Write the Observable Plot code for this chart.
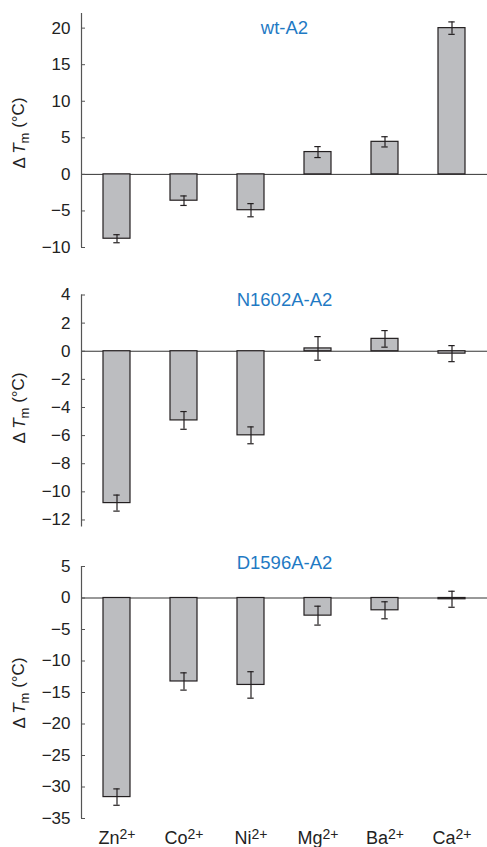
<!DOCTYPE html>
<html>
<head>
<meta charset="utf-8">
<script src="https://cdn.jsdelivr.net/npm/d3@7"></script>
<script src="https://cdn.jsdelivr.net/npm/@observablehq/plot@0.6"></script>
<style>
  html, body { margin: 0; padding: 0; background: #fff; }
  #chart > svg { display: block; }
</style>
</head>
<body>
<div id="chart"></div>
<script>
const ions = ["Zn", "Co", "Ni", "Mg", "Ba", "Ca"];
const charge = "2+";

const titles = ["wt-A2", "N1602A-A2", "D1596A-A2"];

const wtValues = [-8.8, -3.6, -4.9, 3.05, 4.45, 20.0];
const wtErrors = [0.55, 0.65, 0.9, 0.75, 0.7, 0.85];

const n1602Values = [-10.8, -4.92, -5.98, 0.2, 0.88, -0.17];
const n1602Errors = [0.57, 0.63, 0.6, 0.84, 0.59, 0.57];

const d1596Values = [-31.6, -13.25, -13.8, -2.8, -1.95, -0.2];
const d1596Errors = [1.3, 1.37, 2.1, 1.5, 1.35, 1.27];

const wtTicks = [-10, -5, 0, 5, 10, 15, 20];
const n1602Ticks = [-12, -10, -8, -6, -4, -2, 0, 2, 4];
const d1596Ticks = [-35, -30, -25, -20, -15, -10, -5, 0, 5];

const panels = [
  {title: titles[0], values: wtValues, errors: wtErrors, ticks: wtTicks, domain: [-10, 22],
   height: 280, marginTop: 13, marginBottom: 33, titleDy: 14.5, labelY: 133, xAxis: false},
  {title: titles[1], values: n1602Values, errors: n1602Errors, ticks: n1602Ticks, domain: [-12.5, 4],
   height: 270, marginTop: 14.5, marginBottom: 23.5, titleDy: 5, labelY: 128, xAxis: false},
  {title: titles[2], values: d1596Values, errors: d1596Errors, ticks: d1596Ticks, domain: [-35, 5],
   height: 297, marginTop: 16, marginBottom: 29, titleDy: -3, labelY: 143, xAxis: true}
];

const FONT = "'Liberation Sans', Arial, Helvetica, sans-serif";
const WIDTH = 487, ML = 81, MR = 0;
const frameW = WIDTH - ML - MR;
const container = document.getElementById("chart");

for (const p of panels) {
  const data = ions.map((ion, i) => ({ion, value: p.values[i], err: p.errors[i]}));
  const plot = Plot.plot({
    width: WIDTH,
    height: p.height,
    marginLeft: ML,
    marginRight: MR,
    marginTop: p.marginTop,
    marginBottom: p.marginBottom,
    style: {fontFamily: FONT, fontSize: "17px", color: "#222", background: "#fff"},
    x: {domain: ions, paddingInner: 0.59, paddingOuter: 0.295, axis: null},
    y: {domain: p.domain, axis: null},
    marks: [
      // zero baseline
      Plot.ruleY([0], {stroke: "#333", strokeWidth: 1}),
      // y axis line along the left edge of the frame
      Plot.ruleX([p.domain], {x: null, y1: d => d[0], y2: d => d[1], dx: -frameW / 2, stroke: "#555", strokeWidth: 1.2}),
      // inward ticks
      Plot.ruleY(p.ticks, {y: d => d, insetRight: frameW - 4, stroke: "#555", strokeWidth: 1}),
      Plot.barY(data, {x: "ion", y: "value", fill: "#bcbdc0", stroke: "#231f20", strokeWidth: 1.2}),
      Plot.ruleX(data, {x: "ion", y1: d => d.value - d.err, y2: d => d.value + d.err, stroke: "#231f20", strokeWidth: 1.2}),
      Plot.tickY(data, {x: "ion", y: d => d.value - d.err, stroke: "#231f20", strokeWidth: 1.2, insetLeft: 10.3, insetRight: 10.3}),
      Plot.tickY(data, {x: "ion", y: d => d.value + d.err, stroke: "#231f20", strokeWidth: 1.2, insetLeft: 10.3, insetRight: 10.3}),
      Plot.axisY({ticks: p.ticks, tickSize: 0, tickPadding: 11, tickFormat: d => d < 0 ? "\u2212" + Math.abs(d) : String(d), fontSize: 17, fill: "#222", label: null}),
      p.xAxis ? Plot.axisX({tickSize: 0, tickPadding: 13, fontSize: 18, fill: "#222", label: null, tickFormat: d => d}) : null,
      Plot.text([p.title], {frameAnchor: "top", dy: p.titleDy, text: d => d, fill: "#1f7ac4", fontSize: 18.5, lineAnchor: "middle"})
    ]
  });
  const svg = d3.select(plot);

  // superscript charges on the x tick labels
  if (p.xAxis) {
    svg.selectAll("g[aria-label='x-axis tick label'] text").each(function() {
      const t = d3.select(this);
      t.append("tspan").attr("dy", "-0.4em").attr("font-size", "14px").text(charge);
    });
  }

  // y-axis label: ΔTm (°C)
  const lab = svg.append("text")
    .attr("transform", `translate(25,${p.labelY}) rotate(-90)`)
    .attr("text-anchor", "middle")
    .attr("font-family", FONT)
    .attr("font-size", "17px")
    .attr("fill", "#222");
  lab.append("tspan").text("\u0394\u2009");
  lab.append("tspan").attr("font-style", "italic").text("T");
  lab.append("tspan").attr("font-size", "13px").attr("dy", "0.3em").text("m");
  lab.append("tspan").attr("dy", "-0.3em").text(" (\u00B0C)");

  container.appendChild(plot);
}
</script>
</body>
</html>
